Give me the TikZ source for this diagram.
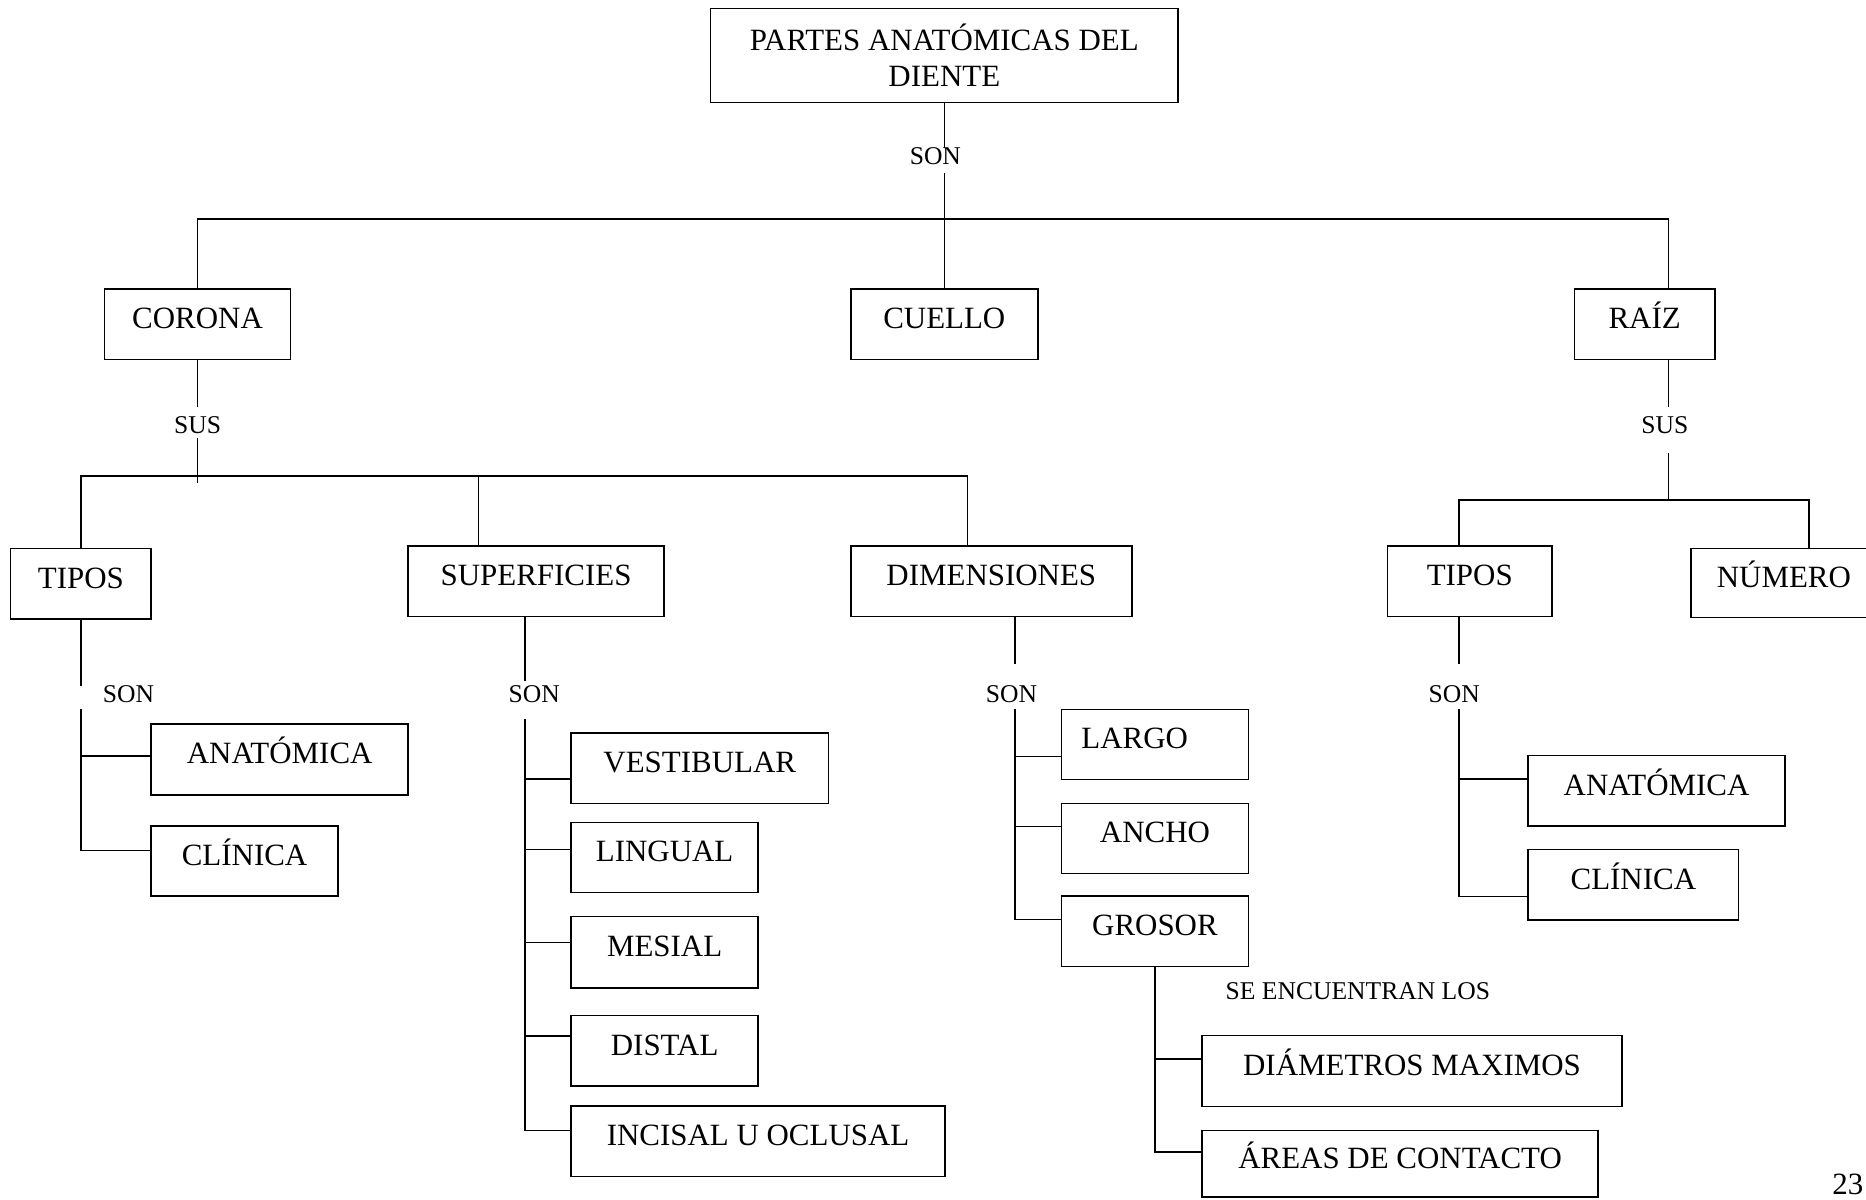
\documentclass[tikz,border=0pt]{standalone}
\usepackage{fontspec}
\setmainfont{Liberation Serif}
\begin{document}
\begin{tikzpicture}[x=1pt,y=-1pt,
  ln/.style={line width=1.3pt},
  bx/.style={draw, line width=1.3pt, inner sep=0pt, font=\fontsize{26}{30}\selectfont, text height=18pt, text depth=10.8pt},
  topbx/.style={draw, line width=1.3pt, inner sep=0pt, font=\fontsize{26}{30}\selectfont, align=center},
  lbl/.style={inner sep=0pt, font=\fontsize{21.5}{24}\selectfont}]
\useasboundingbox (0,0) rectangle (1568,1008);

% boxes
\node[topbx, minimum width=393pt, minimum height=79pt] (top) at (793.5,46.5) {PARTES ANATÓMICAS DEL\\DIENTE};
\node[bx, minimum width=156pt, minimum height=59pt] (corona) at (166,272.5) {CORONA};
\node[bx, minimum width=157pt, minimum height=59pt] (cuello) at (793.5,272.5) {CUELLO};
\node[bx, minimum width=118pt, minimum height=59pt] (raiz) at (1382,272.5) {RAÍZ};

\node[bx, minimum width=118pt, minimum height=59pt] (tipos1) at (68,490.5) {TIPOS};
\node[bx, minimum width=215pt, minimum height=59pt] (superf) at (450.5,488.5) {SUPERFICIES};
\node[bx, minimum width=236pt, minimum height=59pt] (dimens) at (833,488.5) {DIMENSIONES};
\node[bx, minimum width=138pt, minimum height=59pt] (tipos2) at (1235,488.5) {TIPOS};
\node[bx, minimum width=156pt, minimum height=58pt] (numero) at (1499,490) {NÚMERO};

\node[bx, minimum width=216pt, minimum height=59.5pt] (anat1) at (235,638.3) {ANATÓMICA};
\node[bx, minimum width=157pt, minimum height=59pt] (clin1) at (205.5,723.5) {CLÍNICA};

\node[bx, minimum width=216pt, minimum height=59pt] (vest) at (588,645.5) {VESTIBULAR};
\node[bx, minimum width=157pt, minimum height=59pt] (ling) at (558.5,720.5) {LINGUAL};
\node[bx, minimum width=157pt, minimum height=60pt] (mesial) at (558.5,800) {MESIAL};
\node[bx, minimum width=157pt, minimum height=59.5pt] (distal) at (558.5,883) {DISTAL};
\node[bx, minimum width=314pt, minimum height=59pt] (incisal) at (637,959) {INCISAL U OCLUSAL};

\node[bx, minimum width=157pt, minimum height=59pt] (largo) at (970.5,625.5) {\hspace*{-34pt}LARGO};
\node[bx, minimum width=157pt, minimum height=59pt] (ancho) at (970.5,704.5) {ANCHO};
\node[bx, minimum width=157pt, minimum height=59pt] (grosor) at (970.5,782.5) {GROSOR};
\node[bx, minimum width=353pt, minimum height=59.5pt] (diam) at (1186.5,900) {DIÁMETROS MAXIMOS};
\node[bx, minimum width=333pt, minimum height=56pt] (areas) at (1176.5,978) {ÁREAS DE CONTACTO};

\node[bx, minimum width=216pt, minimum height=59pt] (anat2) at (1392,664.5) {ANATÓMICA};
\node[bx, minimum width=177pt, minimum height=59pt] (clin2) at (1372.5,743.5) {CLÍNICA};

% labels
\node[lbl] (son0) at (786,131) {SON};
\node[lbl] (sus1) at (166,357) {SUS};
\node[lbl] (sus2) at (1399,357) {SUS};
\node[lbl] (son1) at (108,583) {SON};
\node[lbl] (son2) at (449,583) {SON};
\node[lbl] (son3) at (850,583) {SON};
\node[lbl] (son4) at (1222,583) {SON};
\node[lbl] (seenc) at (1141,833) {SE ENCUENTRAN LOS};
\node[inner sep=0pt, anchor=base east, font=\fontsize{26}{30}\selectfont] (pg) at (1566,1004) {23};

% coordinates
\coordinate (b1) at (794,184);
\coordinate (b2) at (402,400);
\coordinate (b3) at (1402,420);
\coordinate (t1) at (68,596);
\coordinate (t2) at (441,604);
\coordinate (t3) at (853,596);
\coordinate (t5) at (1226,596);

% top level
\draw[ln] (top.south) -- ++(0,38);
\draw[ln] (cuello.north) -- ++(0,-97);
\draw[ln] (corona.north) |- (b1) -| ([xshift=20pt]raiz.north);

% corona
\draw[ln] (corona.south) -- ++(0,39);
\draw[ln] ([yshift=-65pt]corona.south) -- ++(0,38);
\draw[ln] (tipos1.north) |- (b2) -| ([xshift=-20pt]dimens.north);
\draw[ln] (b2) -- (b2 |- superf.north);

% raiz
\draw[ln] ([xshift=20pt]raiz.south) -- ++(0,39);
\draw[ln] ([xshift=20pt,yshift=-78pt]raiz.south) -- ++(0,40);
\draw[ln] ([xshift=-9pt]tipos2.north) |- (b3) -| ([xshift=21pt]numero.north);

% tipos left
\draw[ln] (tipos1.south) -- ++(0,56);
\draw[ln] ([yshift=3pt]anat1.west) -| (t1);
\draw[ln] ([yshift=9pt]clin1.west) -| (t1);

% superficies
\draw[ln] ([xshift=-9.5pt]superf.south) -- ++(0,54);
\draw[ln] ([yshift=-9pt]vest.west) -| (t2);
\draw[ln] ([yshift=6.6pt]ling.west) -| (t2);
\draw[ln] ([yshift=8pt]mesial.west) -| (t2);
\draw[ln] ([yshift=12.5pt]distal.west) -| (t2);
\draw[ln] ([yshift=9pt]incisal.west) -| (t2);

% dimensiones
\draw[ln] ([xshift=20pt]dimens.south) -- ++(0,39);
\draw[ln] ([yshift=-10pt]largo.west) -| (t3);
\draw[ln] ([yshift=10pt]ancho.west) -| (t3);
\draw[ln] ([yshift=10pt]grosor.west) -| (t3);

% grosor
\draw[ln] ([yshift=10pt]diam.west) -| (grosor.south);
\draw[ln] ([yshift=10pt]areas.west) -| (grosor.south);

% tipos right
\draw[ln] ([xshift=-9pt]tipos2.south) -- ++(0,39);
\draw[ln] ([yshift=10pt]anat2.west) -| (t5);
\draw[ln] ([yshift=-10pt]clin2.west) -| (t5);
\end{tikzpicture}
\end{document}
